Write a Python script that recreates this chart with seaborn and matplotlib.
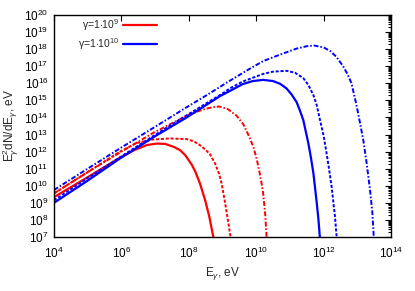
import numpy as np
import pandas as pd
import matplotlib
matplotlib.use("Agg")
import matplotlib.pyplot as plt
import seaborn as sns
from matplotlib.ticker import LogLocator, NullFormatter
from matplotlib.lines import Line2D

# ---- data (log10 E [eV], log10 E^2 dN/dE [eV]) ----
red_solid_lx = [4.0, 5.0, 5.96, 6.4, 6.75, 7.05, 7.3, 7.55, 7.74, 7.9, 8.1, 8.2, 8.33, 8.48, 8.61, 8.73]
red_solid_ly = [9.33, 10.5, 11.65, 12.1, 12.38, 12.47, 12.45, 12.28, 12.09, 11.78, 11.2, 10.8, 10.15, 9.2, 8.19, 7.0]

red_dot_lx = [4.0, 5.0, 5.96, 6.45, 6.9, 7.44, 7.94, 8.15, 8.33, 8.5, 8.63, 8.78, 8.9, 8.98, 9.07, 9.17, 9.24]
red_dot_ly = [9.55, 10.8, 12.0, 12.5, 12.7, 12.77, 12.73, 12.6, 12.38, 12.1, 11.85, 11.31, 10.7, 10.1, 9.1, 7.9, 7.0]

red_dd_lx = [4.0, 5.0, 5.96, 6.95, 7.94, 8.4, 8.7, 8.9, 9.15, 9.42, 9.62, 9.8, 9.93, 10.03, 10.12, 10.2, 10.27, 10.31]
red_dd_ly = [9.55, 10.8, 11.95, 13.1, 14.1, 14.45, 14.6, 14.64, 14.5, 14.1, 13.6, 12.85, 12.2, 11.45, 10.6, 9.7, 8.3, 7.0]

blue_solid_lx = [4.0, 5.0, 5.96, 7.0, 7.89, 8.93, 9.22, 9.6, 9.9, 10.21, 10.5, 10.71, 10.9, 11.05, 11.2,
                 11.3, 11.4, 11.55, 11.63, 11.7, 11.8, 11.85, 11.89]
blue_solid_ly = [9.0, 10.3, 11.6, 12.9, 13.94, 15.25, 15.55, 15.95, 16.13, 16.2, 16.13, 15.97, 15.7, 15.35, 14.9,
                 14.4, 13.84, 12.48, 11.6, 10.72, 8.97, 8.0, 7.0]

blue_dot_lx = [4.0, 5.0, 6.0, 7.0, 8.0, 9.0, 9.22, 9.6, 10.21, 10.5, 10.9, 11.15, 11.4, 11.55, 11.7, 11.8,
               11.89, 12.0, 12.09, 12.17, 12.24, 12.34, 12.39]
blue_dot_ly = [9.15, 10.45, 11.72, 12.98, 14.2, 15.4, 15.7, 16.1, 16.55, 16.68, 16.73, 16.62, 16.3, 15.9, 15.3, 14.7,
               13.9, 12.95, 11.9, 10.9, 9.94, 8.19, 7.0]

blue_dd_lx = [4.0, 5.0, 5.96, 7.0, 7.89, 8.53, 9.22, 9.82, 10.21, 10.71, 11.2, 11.5, 11.72, 12.0, 12.19, 12.38,
              12.58, 12.72, 12.83, 12.98, 13.08, 13.18, 13.28, 13.38, 13.45, 13.49]
blue_dd_ly = [9.75, 11.0, 12.19, 13.45, 14.54, 15.3, 16.15, 16.86, 17.3, 17.68, 18.03, 18.17, 18.21, 18.1, 17.9, 17.55,
              17.0, 16.5, 16.0, 14.7, 13.7, 12.67, 11.31, 9.75, 8.4, 7.0]

legend_labels = [r"$\gamma$=1$\cdot$10$^{9}$", r"$\gamma$=1$\cdot$10$^{10}$"]

curves = [
    ("r_solid", red_solid_lx, red_solid_ly, "#ff0000", "-", 1.6),
    ("r_dot", red_dot_lx, red_dot_ly, "#ff0000", (0, (1.6, 0.9)), 1.4),
    ("r_dd", red_dd_lx, red_dd_ly, "#ff0000", (0, (2.5, 1.0, 0.8, 1.0)), 1.4),
    ("b_solid", blue_solid_lx, blue_solid_ly, "#0000ff", "-", 1.6),
    ("b_dot", blue_dot_lx, blue_dot_ly, "#0000ff", (0, (1.6, 0.9)), 1.4),
    ("b_dd", blue_dd_lx, blue_dd_ly, "#0000ff", (0, (2.5, 1.0, 0.8, 1.0)), 1.4),
]

sns.set_style("white")
plt.rcParams['font.family'] = ['Liberation Sans', 'DejaVu Sans']
plt.rcParams['mathtext.default'] = 'regular'
plt.rcParams['mathtext.fontset'] = 'custom'
plt.rcParams['mathtext.rm'] = 'Liberation Sans'
plt.rcParams['mathtext.it'] = 'Liberation Sans:italic'

fig = plt.figure(figsize=(4.15, 2.91), dpi=100)
ax = fig.add_axes([0.130, 0.1856, 0.812, 0.763])

for name, lx, ly, col, ls, lw in curves:
    df = pd.DataFrame({"E": np.power(10.0, lx), "F": np.power(10.0, ly)})
    sns.lineplot(data=df, x="E", y="F", ax=ax, color=col, linestyle=ls,
                 linewidth=lw, sort=False, estimator=None)

ax.set_xscale("log")
ax.set_yscale("log")
ax.set_xlim(1e4, 1e14)
ax.set_ylim(1e7, 1e20)

ax.xaxis.set_major_locator(LogLocator(base=100.0, numticks=20))
ax.xaxis.set_minor_locator(LogLocator(base=10.0, subs=[1.0], numticks=30))
ax.xaxis.set_minor_formatter(NullFormatter())
ax.yaxis.set_major_locator(LogLocator(base=10.0, numticks=30))
ax.yaxis.set_minor_locator(LogLocator(base=10.0, subs=np.arange(2, 10), numticks=30))
ax.yaxis.set_minor_formatter(NullFormatter())

ax.tick_params(which="both", direction="in", top=True, right=True,
               labelsize=8.5, colors="black", width=0.8)
ax.tick_params(which="major", length=4, pad=4)
ax.tick_params(axis="x", which="major", pad=6)
ax.tick_params(axis="x", which="minor", length=0)
ax.tick_params(axis="y", which="minor", length=2)
for s in ax.spines.values():
    s.set_color("black")
    s.set_linewidth(1.0)

ax.set_xlabel(r"E$_{\mathit{\gamma}}$, eV", fontsize=8.5, labelpad=3)
ax.set_ylabel(r"E$_{\mathit{\gamma}}^{2}$dN/dE$_{\mathit{\gamma}}$, eV", fontsize=8.5, labelpad=2)

handles = [Line2D([], [], color="#ff0000", lw=1.6),
           Line2D([], [], color="#0000ff", lw=1.6)]
ax.legend(handles, legend_labels, loc="upper right", bbox_to_anchor=(0.306, 0.99),
          frameon=False, markerfirst=False, fontsize=7.5, handlelength=3.3,
          handletextpad=0.3, labelspacing=0.3, borderpad=0, borderaxespad=0)

fig.savefig("out.png", dpi=100)
